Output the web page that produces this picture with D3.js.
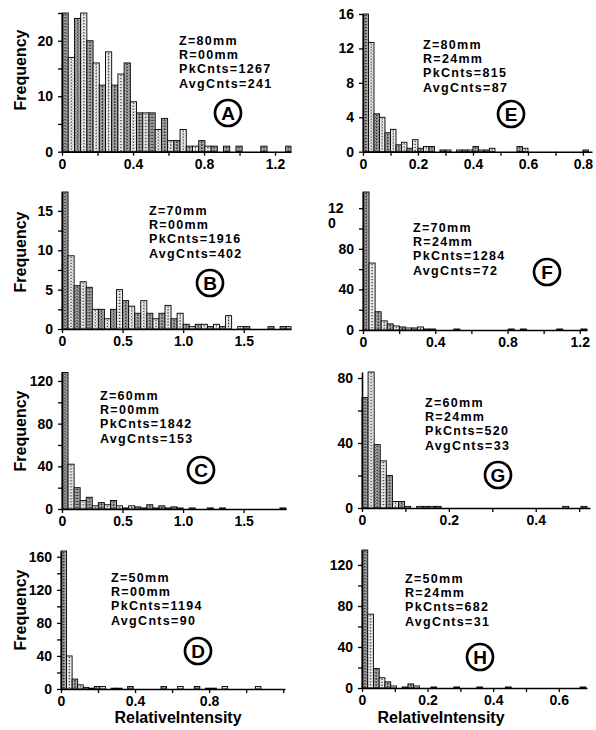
<!DOCTYPE html>
<html>
<head>
<meta charset="UTF-8" />
<script src="https://d3js.org/d3.v7.min.js"></script>
<style>
  body { margin: 0; background: #fff; }
  text { font-family: Arial, "Liberation Sans", sans-serif; font-weight: bold; fill: #000; }
</style>
</head>
<body>
<svg width="596" height="730"></svg>
<script>
// panels in order A B C D (left column) E F G H (right column)
const panelIds = ["A", "B", "C", "D", "E", "F", "G", "H"];
const zLabels = ["Z=80mm", "Z=70mm", "Z=60mm", "Z=50mm", "Z=80mm", "Z=70mm", "Z=60mm", "Z=50mm"];
const rLabels = ["R=00mm", "R=00mm", "R=00mm", "R=00mm", "R=24mm", "R=24mm", "R=24mm", "R=24mm"];
const pkCnts = [1267, 1916, 1842, 1194, 815, 1284, 520, 682];
const avgCnts = [241, 402, 153, 90, 87, 72, 33, 31];

const binWidth = [0.035, 0.05, 0.05, 0.03, 0.02, 0.0335, 0.014, 0.0175];
const xMax = [1.29, 1.89, 1.85, 1.21, 0.833, 1.24, 0.525, 0.686];
const yMax = [25, 17.4, 128.4, 167, 16, 136, 83.7, 134.6];
const xTickStep = [0.2, 0.5, 0.5, 0.2, 0.1, 0.2, 0.1, 0.1];
const xTickLabels = [[0, 0.4, 0.8, 1.2], [0, 0.5, 1.0, 1.5], [0, 0.5, 1.0, 1.5], [0, 0.4, 0.8],
                     [0, 0.2, 0.4, 0.6, 0.8], [0, 0.4, 0.8, 1.2], [0, 0.2, 0.4], [0, 0.2, 0.4, 0.6]];
const yTickStep = [5, 2.5, 20, 20, 4, 20, 20, 20];
const yTickLabels = [[0, 10, 20], [0, 5, 10, 15], [0, 40, 80, 120], [0, 40, 80, 120, 160],
                     [0, 4, 8, 12, 16], [0, 40, 80, 120], [0, 40, 80], [0, 40, 80, 120]];

const countsA = [26, 17, 24, 25, 20, 16, 12, 18, 12, 14, 16, 9, 7, 7, 7, 4, 6, 2, 2, 4, 1, 1, 2, 1, 1, 0, 1, 0, 1, 0, 0, 0, 1, 0, 0, 0, 1];
const countsB = [18, 9.3, 5.5, 6, 5.3, 2.5, 2.5, 1.3, 2.5, 5, 3.6, 2.9, 2, 3.6, 2, 1.3, 2, 3, 1.3, 2, 0.6, 0.3, 0.6, 0.6, 0.3, 0.6, 0.3, 1.7, 0, 0.3, 0.3, 0, 0, 0, 0.3, 0, 0.3, 0.3];
const countsC = [128, 42, 20, 8, 11, 3, 6, 4, 8, 3, 1, 3, 2, 1, 4, 1, 3, 1, 2, 1, 0, 1, 0, 0, 1, 0, 1, 0, 0, 0, 0, 0, 0, 0, 0, 0, 1];
const countsD = [167, 40, 12, 5, 2, 1, 3, 3, 0, 1, 1, 0, 3, 0, 0, 0, 0, 0, 3, 0, 0, 3, 0, 0, 3, 0, 1, 1, 0, 3, 0, 0, 0, 0, 0, 3, 0, 0, 0, 0];
const countsE = [16, 12.7, 4.4, 4, 2.2, 2.6, 0.8, 1.1, 0.4, 1.4, 0.4, 0.6, 0.6, 0, 0.2, 0.2, 0, 0.2, 0.2, 0.2, 0.6, 0.2, 0.2, 0.4, 0, 0, 0, 0, 0.6, 0.4, 0, 0, 0, 0, 0, 0, 0, 0, 0, 0, 0.2];
const countsF = [136, 66, 18, 9, 6, 4, 3, 2, 2, 3, 1, 1, 0, 0, 0, 1, 0, 0, 0, 0, 0, 0, 0, 0, 1, 0, 1, 0, 0, 0, 0, 0, 1, 0, 0, 0, 1];
const countsG = [68, 84, 39, 29, 20, 4, 4, 1, 0, 1, 1, 1, 1, 0, 0, 0, 0, 0, 0, 0, 0, 0, 0, 0, 0, 0, 0, 0, 0, 0, 0, 0, 0, 1, 0, 0, 1];
const countsH = [135, 72, 19, 10, 6, 2, 0, 1, 4, 2, 0, 0, 1, 0, 0, 0, 1, 0, 0, 0, 1, 0, 0, 0, 0, 1, 0, 0, 0, 0, 0, 0, 0, 0, 0, 0, 0, 0, 1];
const counts = [countsA, countsB, countsC, countsD, countsE, countsF, countsG, countsH];

// pixel layout of each panel
const layout = [
  { l: 62, r: 291, t: 13, b: 151.7, cx: 228, cy: 113, tx: 179, ty: 45, fy: 70 },
  { l: 62, r: 291, t: 192, b: 329, cx: 210, cy: 283, tx: 149, ty: 215, fy: 252 },
  { l: 62, r: 286, t: 372, b: 509, cx: 201, cy: 470, tx: 100, ty: 400, fy: 431 },
  { l: 61, r: 285, t: 551, b: 689, cx: 198, cy: 651, tx: 111, ty: 582, fy: 610 },
  { l: 363, r: 592, t: 14, b: 151.7, cx: 511, cy: 114, tx: 423, ty: 49 },
  { l: 363, r: 587, t: 192, b: 330, cx: 547, cy: 272, tx: 413, ty: 232 },
  { l: 362, r: 590, t: 372, b: 508, cx: 498, cy: 475, tx: 425, ty: 407 },
  { l: 362, r: 587, t: 550, b: 688, cx: 480, cy: 657, tx: 405, ty: 583 }
];

const svg = d3.select("svg");

// halftone-like fills
const defs = svg.append("defs");
const pd = defs.append("pattern").attr("id", "pDark").attr("width", 3).attr("height", 3)
  .attr("patternUnits", "userSpaceOnUse");
pd.append("rect").attr("width", 3).attr("height", 3).attr("fill", "#9c9c9c");
pd.append("rect").attr("width", 1).attr("height", 1).attr("fill", "#6e6e6e");
pd.append("rect").attr("x", 1.5).attr("y", 1.5).attr("width", 1).attr("height", 1).attr("fill", "#c4c4c4");
const pl = defs.append("pattern").attr("id", "pLight").attr("width", 3).attr("height", 3)
  .attr("patternUnits", "userSpaceOnUse");
pl.append("rect").attr("width", 3).attr("height", 3).attr("fill", "#e4e4e4");
pl.append("rect").attr("width", 1).attr("height", 1).attr("fill", "#bdbdbd");
pl.append("rect").attr("x", 1.5).attr("y", 1.5).attr("width", 1).attr("height", 1).attr("fill", "#ffffff");

const near = (a, b) => Math.abs(a - b) < 1e-6;
const fmtX = d => (near(d, 0) ? "0" : d3.format(".1f")(d));

panelIds.forEach((id, p) => {
  const L = layout[p];
  const x = d3.scaleLinear().domain([0, xMax[p]]).range([L.l, L.r]);
  const y = d3.scaleLinear().domain([0, yMax[p]]).range([L.b, L.t]);
  const g = svg.append("g");

  const bins = counts[p].map((c, i) => ({ i: i, x0: i * binWidth[p], x1: Math.min((i + 1) * binWidth[p], xMax[p]), c: c }));

  g.selectAll("rect.bar")
    .data(bins.filter(d => d.c > 0))
    .enter()
    .append("rect")
    .attr("class", "bar")
    .attr("x", d => x(d.x0))
    .attr("width", d => x(d.x1) - x(d.x0))
    .attr("y", d => y(Math.min(d.c, yMax[p])))
    .attr("height", d => L.b - y(Math.min(d.c, yMax[p])))
    .attr("fill", d => (d.i % 2 === 0 ? "url(#pDark)" : "url(#pLight)"))
    .attr("stroke", "#000")
    .attr("stroke-width", 0.9);

  // dotted centre stripe of each bar
  g.selectAll("line.dots")
    .data(bins.filter(d => L.b - y(Math.min(d.c, yMax[p])) > 3))
    .enter()
    .append("line")
    .attr("x1", d => (x(d.x0) + x(d.x1)) / 2)
    .attr("x2", d => (x(d.x0) + x(d.x1)) / 2)
    .attr("y1", d => y(Math.min(d.c, yMax[p])) + 1)
    .attr("y2", L.b)
    .attr("stroke", d => (d.i % 2 === 0 ? "#222" : "#444"))
    .attr("stroke-width", 1.3)
    .attr("stroke-dasharray", "1.3,1.7");

  // x axis
  const xTicks = d3.range(0, xMax[p] + 1e-9, xTickStep[p]);
  const xa = g.append("g").attr("transform", `translate(0,${L.b})`)
    .call(d3.axisBottom(x).tickValues(xTicks).tickSizeInner(4).tickSizeOuter(0).tickPadding(3)
      .tickFormat(d => (xTickLabels[p].some(v => near(v, d)) ? fmtX(d) : "")));
  // y axis
  const yTicks = d3.range(0, yMax[p] + 1e-9, yTickStep[p]);
  const ya = g.append("g").attr("transform", `translate(${L.l},0)`)
    .call(d3.axisLeft(y).tickValues(yTicks).tickSizeInner(4).tickSizeOuter(0).tickPadding(5)
      .tickFormat(d => (yTickLabels[p].includes(d) ? d : "")));

  [xa, ya].forEach(a => {
    a.select(".domain").attr("stroke", "#000").attr("stroke-width", 1.6);
    a.selectAll(".tick line").attr("stroke", "#000").attr("stroke-width", 1.3);
    a.selectAll(".tick text").attr("font-size", 14).attr("font-family", "Arial, 'Liberation Sans', sans-serif")
      .attr("font-weight", "bold").attr("fill", "#000");
  });

  // panel F shows its 120 label broken over two lines
  if (id === "F") {
    const t = ya.selectAll(".tick").filter(d => d === 120);
    t.select("text").text("12").attr("text-anchor", "start").attr("x", -35);
    t.append("text").text("0").attr("x", -35).attr("y", 15).attr("dy", "0.32em")
      .attr("font-size", 14).attr("text-anchor", "start");
  }

  // annotation block
  const lines = [zLabels[p], rLabels[p], "PkCnts=" + pkCnts[p], "AvgCnts=" + avgCnts[p]];
  g.selectAll("text.note")
    .data(lines)
    .enter()
    .append("text")
    .attr("class", "note")
    .attr("x", L.tx)
    .attr("y", (d, i) => L.ty + i * 14.2)
    .attr("font-size", 12.5)
    .attr("letter-spacing", 1.3)
    .text(d => d);

  g.append("circle").attr("cx", L.cx).attr("cy", L.cy).attr("r", 13)
    .attr("fill", "none").attr("stroke", "#000").attr("stroke-width", 2.7);
  g.append("text").attr("x", L.cx).attr("y", L.cy).attr("dy", "0.36em")
    .attr("text-anchor", "middle").attr("font-size", 19).text(id);

  if (p < 4) {
    g.append("text")
      .attr("transform", `translate(26,${L.fy}) rotate(-90)`)
      .attr("text-anchor", "middle")
      .attr("font-size", 16)
      .text("Frequency");
  }
});

// x-axis titles under the bottom panels
svg.append("text").attr("x", 178).attr("y", 723).attr("text-anchor", "middle").attr("font-size", 16).text("RelativeIntensity");
svg.append("text").attr("x", 441).attr("y", 723).attr("text-anchor", "middle").attr("font-size", 16).text("RelativeIntensity");
</script>
</body>
</html>
